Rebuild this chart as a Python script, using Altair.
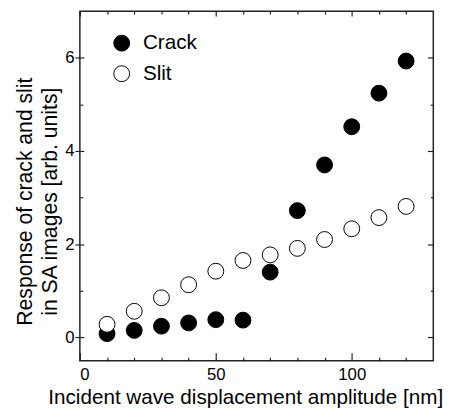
import altair as alt
import pandas as pd

amplitude = [10, 20, 30, 40, 50, 60, 70, 80, 90, 100, 110, 120]
crack = [0.08, 0.15, 0.24, 0.31, 0.38, 0.37, 1.40, 2.72, 3.70, 4.52, 5.24, 5.93]
slit = [0.28, 0.56, 0.85, 1.13, 1.42, 1.65, 1.77, 1.91, 2.10, 2.33, 2.57, 2.81]
series_names = ["Crack", "Slit"]
x_major = [0, 50, 100]
x_minor = [10, 20, 30, 40, 60, 70, 80, 90, 110, 120]
y_major = [0, 2, 4, 6]
y_minor = [1, 3, 5]
x_title = "Incident wave displacement amplitude [nm]"
y_title = ["Response of crack and slit", "in SA images [arb. units]"]

df = pd.DataFrame({
    "amp": amplitude * 2,
    "resp": crack + slit,
    "series": [series_names[0]] * len(crack) + [series_names[1]] * len(slit),
})

W, H = 359, 355
FONT = "Liberation Sans"
INK = "#222222"

xs = alt.Scale(domain=[0, 130], nice=False, zero=False)
ys = alt.Scale(domain=[-0.5, 7], nice=False, zero=False)


def tick_axis(orient, values, size, offset):
    return alt.Axis(orient=orient, values=values, tickSize=size, offset=offset,
                    labels=False, domain=False, grid=False, title=None,
                    tickColor=INK, tickWidth=1.2)


points = alt.Chart(df).mark_point(
    filled=True, size=260, stroke="black", strokeWidth=1, opacity=1
).encode(
    x=alt.X("amp:Q", scale=xs, axis=alt.Axis(
        orient="bottom", values=x_major, ticks=False, grid=False, domain=False,
        labelFontSize=17, labelPadding=6, labelFont=FONT, labelColor="black",
        title=x_title, titleFontSize=21, titleFontWeight="normal", titleFont=FONT,
        titleColor="black", titleX=168, titleY=44, titleBaseline="alphabetic")),
    y=alt.Y("resp:Q", scale=ys, axis=alt.Axis(
        orient="left", values=y_major, tickSize=5, tickColor=INK, tickWidth=1.2,
        grid=False, domain=False,
        labelFontSize=17, labelPadding=1, labelFont=FONT, labelColor="black",
        title=y_title, titleFontSize=21.5, titleFontWeight="normal", titleFont=FONT,
        titleColor="black", titleX=-49, titleY=193, titleBaseline="alphabetic",
        titleLineHeight=25)),
    fill=alt.Fill("series:N", scale=alt.Scale(domain=series_names, range=["black", "white"]),
                  legend=alt.Legend(
                      orient="none", legendX=32, legendY=22, title=None,
                      symbolType="circle", symbolSize=260, symbolStrokeColor="black",
                      symbolStrokeWidth=1, labelFontSize=21, labelFont=FONT,
                      labelColor="black", labelOffset=11, rowPadding=9)),
)

ghost = alt.Chart(df).mark_point(opacity=0).encode()

l_in_major = ghost.encode(
    x=alt.X("amp:Q", scale=xs, axis=tick_axis("top", x_major, 8, -H)),
    y=alt.Y("resp:Q", scale=ys, axis=tick_axis("right", y_major, 4, -W)),
)
l_in_minor = ghost.encode(
    x=alt.X("amp:Q", scale=xs, axis=tick_axis("top", x_minor, 3.5, -H)),
    y=alt.Y("resp:Q", scale=ys, axis=tick_axis("right", y_minor, 3, -W)),
)
r_in_major = ghost.encode(
    x=alt.X("amp:Q", scale=xs, axis=tick_axis("bottom", x_major, 5, -H)),
    y=alt.Y("resp:Q", scale=ys, axis=tick_axis("left", y_major, 6, -W)),
)
r_in_minor = ghost.encode(
    x=alt.X("amp:Q", scale=xs, axis=tick_axis("bottom", x_minor, 3, -H)),
    y=alt.Y("resp:Q", scale=ys, axis=tick_axis("left", y_minor, 3, -W)),
)

chart = alt.layer(points, l_in_major, l_in_minor, r_in_major, r_in_minor).resolve_axis(
    x="independent", y="independent"
).properties(
    width=W, height=H,
    autosize=alt.AutoSizeParams(type="none"),
    padding={"left": 73, "top": 0, "right": 20, "bottom": 54},
).configure_view(
    stroke=INK, strokeWidth=1.5
)

chart.save("out.html", embed_options={"renderer": "svg", "actions": False})
